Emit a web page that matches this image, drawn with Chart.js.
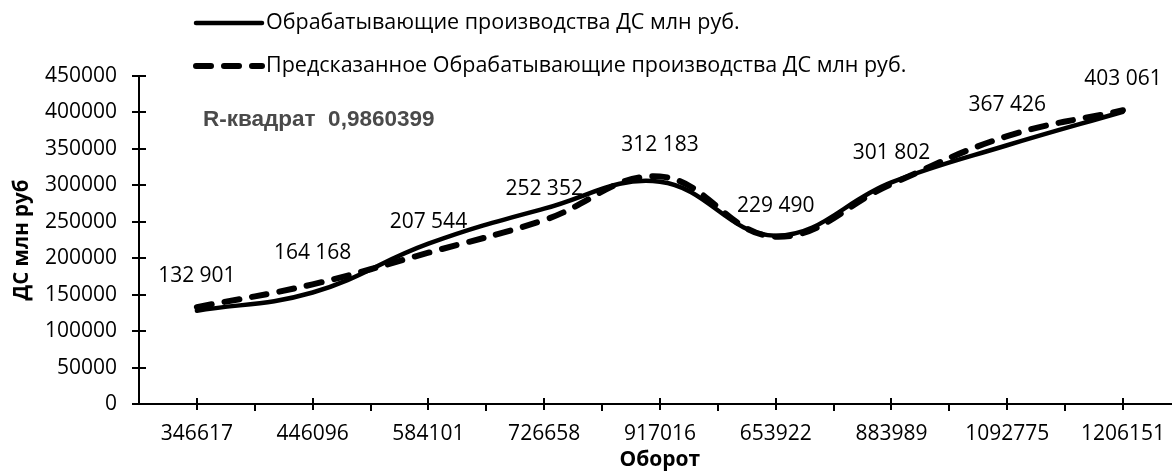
<!DOCTYPE html>
<html><head><meta charset="utf-8">
<script src="https://cdn.jsdelivr.net/npm/chart.js@4.4.1/dist/chart.umd.min.js"></script>
<style>html,body{margin:0;padding:0;background:#fff;overflow:hidden;width:1172px;height:471px}canvas{display:block}</style>
</head><body><canvas id="c" width="1182" height="471"></canvas>
<script>
const categories = ['346617','446096','584101','726658','917016','653922','883989','1092775','1206151'];
const actualValues = [128000,153000,220000,268000,305000,231000,304000,355000,401000];
const predictedValues = [132901,164168,207544,252352,312183,229490,301802,367426,403061];
const yTickValues = [0,50000,100000,150000,200000,250000,300000,350000,400000,450000];
const seriesNames = ['Обрабатывающие производства ДС млн руб.','Предсказанное Обрабатывающие производства ДС млн руб.'];
const rSquaredText = 'R-квадрат  0,9860399';
const xTitle = 'Оборот';
const yTitle = 'ДС млн руб';

const FONT = '"Open Sans", "Noto Sans", sans-serif';
const fmt = v => String(v).replace(/\B(?=(\d{3})+(?!\d))/g, ' ');

const decor = {
  id: 'decor',
  afterDraw(chart) {
    const ctx = chart.ctx, ca = chart.chartArea, xs = chart.scales.x, ys = chart.scales.y;
    ctx.save();
    ctx.strokeStyle = '#000'; ctx.lineWidth = 2; ctx.lineCap = 'butt';
    const seg = (x1,y1,x2,y2) => { ctx.beginPath(); ctx.moveTo(x1,y1); ctx.lineTo(x2,y2); ctx.stroke(); };
    yTickValues.forEach(v => { const y = Math.round(ys.getPixelForValue(v)); seg(ca.left-7, y, ca.left+7, y); });
    categories.forEach((c,i) => { const x = Math.round(xs.getPixelForValue(i)); seg(x, ca.bottom-6, x, ca.bottom+6); });
    for (let i = 1; i < categories.length; i++) {
      const x = Math.round((xs.getPixelForValue(i-1) + xs.getPixelForValue(i)) / 2);
      seg(x, ca.bottom, x, ca.bottom+7);
    }
    // data labels for predicted series
    const meta = chart.getDatasetMeta(1);
    ctx.fillStyle = '#000'; ctx.font = '21px ' + FONT; ctx.textAlign = 'center'; ctx.textBaseline = 'middle';
    meta.data.forEach((p,i) => ctx.fillText(fmt(predictedValues[i]), p.x, p.y - 31));
    // legend
    const rows = [23, 66];
    chart.data.datasets.forEach((ds, i) => {
      ctx.save();
      ctx.strokeStyle = '#000'; ctx.lineWidth = ds.borderWidth; ctx.lineCap = 'round';
      ctx.setLineDash(ds.borderDash || []);
      seg(196, rows[i], 262, rows[i]);
      ctx.restore();
      ctx.fillStyle = '#000'; ctx.font = '21.5px ' + FONT; ctx.textAlign = 'left'; ctx.textBaseline = 'middle';
      ctx.fillText(ds.label, 266, rows[i]);
    });
    // R squared
    ctx.filter = 'blur(0.6px)';
    ctx.fillStyle = '#4a4a4a'; ctx.font = 'bold 22.5px "Liberation Sans", Arial, sans-serif';
    ctx.textAlign = 'left'; ctx.textBaseline = 'middle';
    ctx.fillText(rSquaredText, 203, 120);
    ctx.restore();
  }
};

new Chart(document.getElementById('c'), {
  type: 'line',
  data: {
    labels: categories,
    datasets: [
      { label: seriesNames[0], data: actualValues, borderColor: '#000', borderWidth: 4.5, pointRadius: 0, tension: 0.4, fill: false, order: 1, borderCapStyle: 'round' },
      { label: seriesNames[1], data: predictedValues, borderColor: '#000', borderWidth: 6, borderDash: [15, 13], borderCapStyle: 'round', pointRadius: 0, tension: 0.4, fill: false, order: 0 }
    ]
  },
  options: {
    responsive: false, animation: false, devicePixelRatio: 1,
    layout: { padding: { top: 76, right: 1, left: 0, bottom: 0 } },
    plugins: { legend: { display: false }, tooltip: { enabled: false } },
    scales: {
      x: {
        offset: true,
        grid: { display: false, drawTicks: false },
        border: { display: true, color: '#000', width: 2 },
        ticks: { color: '#000', font: { family: FONT, size: 21 }, padding: 17, maxRotation: 0, autoSkip: false },
        title: { display: true, text: xTitle, color: '#000', font: { family: FONT, size: 21, weight: 'bold', lineHeight: 1 }, padding: { top: 0, bottom: 0 } },
        afterFit(s) { s.height = 67; }
      },
      y: {
        min: 0, max: 450000,
        grid: { display: false, drawTicks: false },
        border: { display: true, color: '#000', width: 2 },
        afterBuildTicks(s) { s.ticks = yTickValues.map(v => ({ value: v })); },
        ticks: { color: '#000', font: { family: FONT, size: 21 }, padding: 22, callback: v => String(v) },
        title: { display: true, text: yTitle, color: '#000', font: { family: FONT, size: 20.5, weight: 'bold' }, padding: { top: 10, bottom: 0 } },
        afterFit(s) { s.width = 139; }
      }
    }
  },
  plugins: [decor]
});
</script></body></html>
